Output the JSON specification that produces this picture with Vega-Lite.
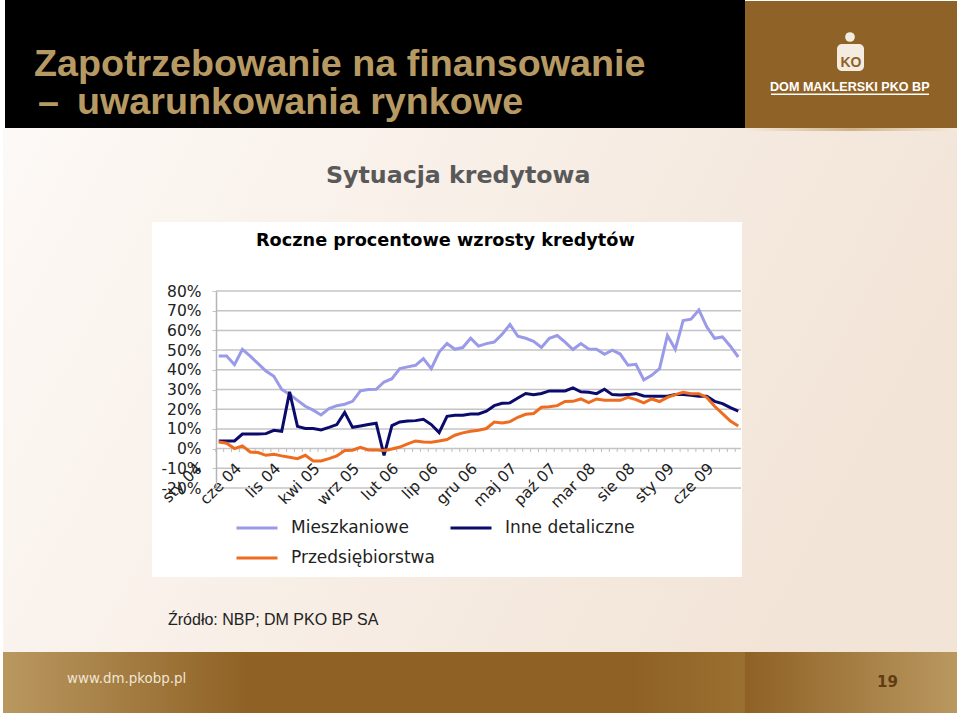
{"$schema":"https://vega.github.io/schema/vega-lite/v6.json","width":525,"height":197,"autosize":"none","padding":{"left":216,"top":291,"right":219,"bottom":228},"background":"#ffffff","config":{"view":{"stroke":null}},
"layer":[
{"data":{"values":[{}]},"layer":[
{"mark":{"type":"rect","fill":{"gradient":"linear","x1":0,"y1":0,"x2":1,"y2":0.3,"stops":[{"offset":0,"color":"#fdf9f6"},{"offset":1,"color":"#f2e4d7"}]}},"encoding":{"x":{"datum":3,"scale":{"domain":[216,741],"range":[0,525]},"axis":null},"x2":{"datum":957},"y":{"datum":128,"scale":{"domain":[291,488],"range":[0,197]},"axis":null},"y2":{"datum":652}}},
{"mark":{"type":"rect","fill":"#000000"},"encoding":{"x":{"datum":5,"scale":{"domain":[216,741],"range":[0,525]},"axis":null},"x2":{"datum":745},"y":{"datum":0,"scale":{"domain":[291,488],"range":[0,197]},"axis":null},"y2":{"datum":128}}},
{"mark":{"type":"rect","fill":"#8f6227"},"encoding":{"x":{"datum":745,"scale":{"domain":[216,741],"range":[0,525]},"axis":null},"x2":{"datum":957},"y":{"datum":1,"scale":{"domain":[291,488],"range":[0,197]},"axis":null},"y2":{"datum":128}}},
{"mark":{"type":"rect","fill":{"gradient":"linear","x1":0,"y1":0,"x2":1,"y2":0,"stops":[{"offset":0,"color":"#f7eadc"},{"offset":0.5,"color":"#cfb48a"},{"offset":1,"color":"#f7eadc"}]}},"encoding":{"x":{"datum":745,"scale":{"domain":[216,741],"range":[0,525]},"axis":null},"x2":{"datum":957},"y":{"datum":128,"scale":{"domain":[291,488],"range":[0,197]},"axis":null},"y2":{"datum":131}}},
{"mark":{"type":"rect","fill":{"gradient":"linear","x1":0,"y1":0,"x2":1,"y2":0,"stops":[{"offset":0,"color":"#b99860"},{"offset":0.33,"color":"#8f6125"},{"offset":0.85,"color":"#8f6125"},{"offset":1,"color":"#9a7030"}]}},"encoding":{"x":{"datum":3,"scale":{"domain":[216,741],"range":[0,525]},"axis":null},"x2":{"datum":745},"y":{"datum":652,"scale":{"domain":[291,488],"range":[0,197]},"axis":null},"y2":{"datum":713}}},
{"mark":{"type":"rect","fill":{"gradient":"linear","x1":0,"y1":0,"x2":1,"y2":0,"stops":[{"offset":0,"color":"#8f6125"},{"offset":1,"color":"#b99860"}]}},"encoding":{"x":{"datum":745,"scale":{"domain":[216,741],"range":[0,525]},"axis":null},"x2":{"datum":957},"y":{"datum":652,"scale":{"domain":[291,488],"range":[0,197]},"axis":null},"y2":{"datum":713}}},
{"mark":{"type":"rect","fill":"#ffffff"},"encoding":{"x":{"datum":152,"scale":{"domain":[216,741],"range":[0,525]},"axis":null},"x2":{"datum":742},"y":{"datum":222,"scale":{"domain":[291,488],"range":[0,197]},"axis":null},"y2":{"datum":577}}},
{"mark":{"type":"text","text":"Zapotrzebowanie na finansowanie","align":"left","baseline":"middle","font":"Liberation Sans","fontWeight":"bold","fontSize":37.7,"fill":"#b79a63"},"encoding":{"x":{"datum":34,"scale":{"domain":[216,741],"range":[0,525]},"axis":null},"y":{"datum":65,"scale":{"domain":[291,488],"range":[0,197]},"axis":null}}},
{"mark":{"type":"text","text":"–","align":"left","baseline":"middle","font":"Liberation Sans","fontWeight":"bold","fontSize":37.7,"fill":"#b79a63"},"encoding":{"x":{"datum":38,"scale":{"domain":[216,741],"range":[0,525]},"axis":null},"y":{"datum":103,"scale":{"domain":[291,488],"range":[0,197]},"axis":null}}},
{"mark":{"type":"text","text":"uwarunkowania rynkowe","align":"left","baseline":"middle","font":"Liberation Sans","fontWeight":"bold","fontSize":37.7,"fill":"#b79a63"},"encoding":{"x":{"datum":77,"scale":{"domain":[216,741],"range":[0,525]},"axis":null},"y":{"datum":103,"scale":{"domain":[291,488],"range":[0,197]},"axis":null}}},
{"mark":{"type":"text","text":"Sytuacja kredytowa","align":"left","baseline":"middle","font":"DejaVu Sans","fontWeight":"bold","fontSize":23.7,"fill":"#595959"},"encoding":{"x":{"datum":326,"scale":{"domain":[216,741],"range":[0,525]},"axis":null},"y":{"datum":176,"scale":{"domain":[291,488],"range":[0,197]},"axis":null}}},
{"mark":{"type":"text","text":"Roczne procentowe wzrosty kredytów","align":"left","baseline":"middle","font":"DejaVu Sans","fontWeight":"bold","fontSize":17.7,"fill":"#000000"},"encoding":{"x":{"datum":256,"scale":{"domain":[216,741],"range":[0,525]},"axis":null},"y":{"datum":241,"scale":{"domain":[291,488],"range":[0,197]},"axis":null}}},
{"mark":{"type":"text","text":"Źródło: NBP; DM PKO BP SA","align":"left","baseline":"middle","font":"Liberation Sans","fontSize":16,"fill":"#222222"},"encoding":{"x":{"datum":168,"scale":{"domain":[216,741],"range":[0,525]},"axis":null},"y":{"datum":620,"scale":{"domain":[291,488],"range":[0,197]},"axis":null}}},
{"mark":{"type":"text","text":"www.dm.pkobp.pl","align":"left","baseline":"middle","font":"DejaVu Sans","fontSize":13.4,"fill":"#f0e6d4"},"encoding":{"x":{"datum":67,"scale":{"domain":[216,741],"range":[0,525]},"axis":null},"y":{"datum":679,"scale":{"domain":[291,488],"range":[0,197]},"axis":null}}},
{"mark":{"type":"text","text":"19","align":"left","baseline":"middle","font":"DejaVu Sans","fontWeight":"bold","fontSize":15,"fill":"#5e3d12"},"encoding":{"x":{"datum":877,"scale":{"domain":[216,741],"range":[0,525]},"axis":null},"y":{"datum":682,"scale":{"domain":[291,488],"range":[0,197]},"axis":null}}},
{"mark":{"type":"text","text":"DOM MAKLERSKI PKO BP","align":"left","baseline":"middle","font":"Liberation Sans","fontWeight":"bold","fontSize":12.6,"fill":"#ffffff"},"encoding":{"x":{"datum":770,"scale":{"domain":[216,741],"range":[0,525]},"axis":null},"y":{"datum":87,"scale":{"domain":[291,488],"range":[0,197]},"axis":null}}},
{"mark":{"type":"rect","fill":"#ffffff"},"encoding":{"x":{"datum":771,"scale":{"domain":[216,741],"range":[0,525]},"axis":null},"x2":{"datum":929},"y":{"datum":93.5,"scale":{"domain":[291,488],"range":[0,197]},"axis":null},"y2":{"datum":95}}},
{"mark":{"type":"rect","fill":"#f4ece0","cornerRadius":5},"encoding":{"x":{"datum":837,"scale":{"domain":[216,741],"range":[0,525]},"axis":null},"x2":{"datum":864},"y":{"datum":44,"scale":{"domain":[291,488],"range":[0,197]},"axis":null},"y2":{"datum":71}}},
{"mark":{"type":"point","filled":true,"fill":"#f4ece0","opacity":1,"size":95},"encoding":{"x":{"datum":850,"scale":{"domain":[216,741],"range":[0,525]},"axis":null},"y":{"datum":37,"scale":{"domain":[291,488],"range":[0,197]},"axis":null}}},
{"mark":{"type":"text","text":"KO","align":"center","baseline":"middle","font":"Liberation Sans","fontWeight":"bold","fontSize":14,"fill":"#8f6227"},"encoding":{"x":{"datum":851,"scale":{"domain":[216,741],"range":[0,525]},"axis":null},"y":{"datum":63,"scale":{"domain":[291,488],"range":[0,197]},"axis":null}}}
]},
{"data":{"values":[
{"m":"sty 04","a":47,"b":3.9,"c":3.4},{"m":"lut 04","a":47,"b":3.9,"c":2.7},{"m":"mar 04","a":42.6,"b":3.9,"c":0},{"m":"kwi 04","a":50.4,"b":7.4,"c":1.4},{"m":"maj 04","a":46.9,"b":7.4,"c":-1.7},{"m":"cze 04","a":43.1,"b":7.4,"c":-2},{"m":"lip 04","a":39.4,"b":7.6,"c":-3.4},{"m":"sie 04","a":36.7,"b":9.3,"c":-2.9},{"m":"wrz 04","a":30,"b":8.8,"c":-3.7},{"m":"paź 04","a":27.6,"b":28.8,"c":-4.4},{"m":"lis 04","a":24.5,"b":11.3,"c":-5.1},{"m":"gru 04","a":21.5,"b":10.2,"c":-3.4},
{"m":"sty 05","a":19.5,"b":10.2,"c":-6.3},{"m":"lut 05","a":17.1,"b":9.5,"c":-6.3},{"m":"mar 05","a":20.3,"b":10.8,"c":-5.1},{"m":"kwi 05","a":21.8,"b":12.2,"c":-3.7},{"m":"maj 05","a":22.5,"b":18.4,"c":-1},{"m":"cze 05","a":24,"b":10.8,"c":-0.8},{"m":"lip 05","a":29.3,"b":11.5,"c":0.7},{"m":"sie 05","a":30,"b":12.2,"c":-0.7},{"m":"wrz 05","a":30.1,"b":12.9,"c":-0.7},{"m":"paź 05","a":33.8,"b":-3.4,"c":-1},{"m":"lis 05","a":35.5,"b":11.7,"c":-0.2},{"m":"gru 05","a":40.6,"b":13.5,"c":0.8},
{"m":"sty 06","a":41.5,"b":14,"c":2.4},{"m":"lut 06","a":42.3,"b":14.2,"c":3.9},{"m":"mar 06","a":45.7,"b":14.9,"c":3.4},{"m":"kwi 06","a":40.6,"b":12.2,"c":3.2},{"m":"maj 06","a":49,"b":8.1,"c":3.9},{"m":"cze 06","a":53.3,"b":16.4,"c":4.6},{"m":"lip 06","a":50.4,"b":16.9,"c":6.8},{"m":"sie 06","a":51.3,"b":16.9,"c":8},{"m":"wrz 06","a":56,"b":17.6,"c":8.8},{"m":"paź 06","a":52,"b":17.6,"c":9.3},{"m":"lis 06","a":53.3,"b":19,"c":10.2},{"m":"gru 06","a":54.1,"b":21.8,"c":13.5},
{"m":"sty 07","a":58,"b":23,"c":13},{"m":"lut 07","a":63,"b":23.2,"c":13.7},{"m":"mar 07","a":57,"b":25.7,"c":15.9},{"m":"kwi 07","a":56,"b":28,"c":17.4},{"m":"maj 07","a":54.5,"b":27.4,"c":17.8},{"m":"cze 07","a":51.3,"b":28,"c":21},{"m":"lip 07","a":56,"b":29.3,"c":21.2},{"m":"sie 07","a":57.4,"b":29.3,"c":21.8},{"m":"wrz 07","a":54,"b":29.3,"c":23.9},{"m":"paź 07","a":50.3,"b":30.8,"c":24},{"m":"lis 07","a":53.3,"b":28.8,"c":25.2},{"m":"gru 07","a":50.6,"b":28.6,"c":23.4},
{"m":"sty 08","a":50.4,"b":27.9,"c":25.2},{"m":"lut 08","a":47.9,"b":30.1,"c":24.5},{"m":"mar 08","a":50,"b":27.4,"c":24.5},{"m":"kwi 08","a":48,"b":27.2,"c":24.5},{"m":"maj 08","a":42.3,"b":27.4,"c":26},{"m":"cze 08","a":42.8,"b":27.9,"c":24.9},{"m":"lip 08","a":34.9,"b":26.7,"c":23.2},{"m":"sie 08","a":37.2,"b":26.6,"c":25.2},{"m":"wrz 08","a":40.6,"b":26.6,"c":23.9},{"m":"paź 08","a":57.4,"b":26.6,"c":26},{"m":"lis 08","a":50.4,"b":27.4,"c":27.4},{"m":"gru 08","a":65,"b":27.4,"c":28.6},
{"m":"sty 09","a":65.7,"b":27.1,"c":27.9},{"m":"lut 09","a":70.4,"b":26.6,"c":27.9},{"m":"mar 09","a":61.8,"b":26.6,"c":26},{"m":"kwi 09","a":56,"b":24,"c":21.5},{"m":"maj 09","a":56.7,"b":22.8,"c":17.8},{"m":"cze 09","a":52,"b":20.8,"c":14},{"m":"lip 09","a":46.5,"b":19,"c":11.5}
]},
"layer":[
{"data":{"values":[{"g":-20},{"g":-10},{"g":0},{"g":10},{"g":20},{"g":30},{"g":40},{"g":50},{"g":60},{"g":70},{"g":80}]},"mark":{"type":"rule","color":"#c4c4c4","strokeWidth":1.5},"encoding":{"y":{"field":"g","type":"quantitative","scale":{"domain":[-20,80],"nice":false,"zero":false},"axis":{"values":[-20,-10,0,10,20,30,40,50,60,70,80],"title":null,"grid":false,"labelExpr":"datum.value + '%'","labelFont":"DejaVu Sans","labelFontSize":15.5,"labelColor":"#222222","labelPadding":11,"labelOverlap":false,"labelBound":false,"labelFlush":false,"tickSize":4,"tickColor":"#c4c4c4","domainColor":"#b4b4b4","domainWidth":1.5,"zindex":1}}}},
{"mark":{"type":"rule","color":"#bdbdbd","strokeWidth":1,"xOffset":-3},"encoding":{"x":{"field":"m","type":"nominal","sort":null,"scale":{"type":"point","padding":0.35,"domain":["sty 04","lut 04","mar 04","kwi 04","maj 04","cze 04","lip 04","sie 04","wrz 04","paź 04","lis 04","gru 04","sty 05","lut 05","mar 05","kwi 05","maj 05","cze 05","lip 05","sie 05","wrz 05","paź 05","lis 05","gru 05","sty 06","lut 06","mar 06","kwi 06","maj 06","cze 06","lip 06","sie 06","wrz 06","paź 06","lis 06","gru 06","sty 07","lut 07","mar 07","kwi 07","maj 07","cze 07","lip 07","sie 07","wrz 07","paź 07","lis 07","gru 07","sty 08","lut 08","mar 08","kwi 08","maj 08","cze 08","lip 08","sie 08","wrz 08","paź 08","lis 08","gru 08","sty 09","lut 09","mar 09","kwi 09","maj 09","cze 09","lip 09"]},"axis":{"values":["sty 04","cze 04","lis 04","kwi 05","wrz 05","lut 06","lip 06","gru 06","maj 07","paź 07","mar 08","sie 08","sty 09","cze 09"],"title":null,"offset":-39.5,"domain":false,"ticks":false,"grid":false,"labelAngle":-45,"labelAlign":"right","labelBaseline":"middle","labelOffset":-20,"labelPadding":17,"labelFont":"DejaVu Sans","labelFontSize":15.5,"labelColor":"#222222","labelOverlap":false,"zindex":1}},"y":{"datum":0,"axis":{"values":[-20,-10,0,10,20,30,40,50,60,70,80],"title":null,"grid":false,"labelExpr":"datum.value + '%'","labelFont":"DejaVu Sans","labelFontSize":15.5,"labelColor":"#222222","labelPadding":11,"labelOverlap":false,"labelBound":false,"labelFlush":false,"tickSize":4,"tickColor":"#c4c4c4","domainColor":"#b4b4b4","domainWidth":1.5,"zindex":1}},"y2":{"datum":-1.7}}},
{"transform":[{"fold":["a","b","c"],"as":["k","v"]},{"calculate":"{'a':'Mieszkaniowe','b':'Inne detaliczne','c':'Przedsiębiorstwa'}[datum.k]","as":"seria"}],"mark":{"type":"line","strokeWidth":3,"strokeJoin":"miter"},"encoding":{"x":{"field":"m","type":"nominal","axis":{"values":["sty 04","cze 04","lis 04","kwi 05","wrz 05","lut 06","lip 06","gru 06","maj 07","paź 07","mar 08","sie 08","sty 09","cze 09"],"title":null,"offset":-39.5,"domain":false,"ticks":false,"grid":false,"labelAngle":-45,"labelAlign":"right","labelBaseline":"middle","labelOffset":-20,"labelPadding":17,"labelFont":"DejaVu Sans","labelFontSize":15.5,"labelColor":"#222222","labelOverlap":false,"zindex":1}},"y":{"field":"v","type":"quantitative","axis":{"values":[-20,-10,0,10,20,30,40,50,60,70,80],"title":null,"grid":false,"labelExpr":"datum.value + '%'","labelFont":"DejaVu Sans","labelFontSize":15.5,"labelColor":"#222222","labelPadding":11,"labelOverlap":false,"labelBound":false,"labelFlush":false,"tickSize":4,"tickColor":"#c4c4c4","domainColor":"#b4b4b4","domainWidth":1.5,"zindex":1}},"color":{"field":"seria","type":"nominal","scale":{"domain":["Mieszkaniowe","Przedsiębiorstwa","Inne detaliczne"],"range":["#9a9ae8","#ee6c1f","#0b0b6b"]},"legend":{"orient":"none","legendX":19,"legendY":215,"columns":2,"title":null,"symbolType":"stroke","symbolSize":1681,"symbolStrokeWidth":3,"labelFont":"DejaVu Sans","labelFontSize":17,"labelColor":"#222222","labelOffset":12,"rowPadding":-3,"columnPadding":9}}}}
]}
],
"resolve":{"scale":{"x":"independent","y":"independent"}}}
